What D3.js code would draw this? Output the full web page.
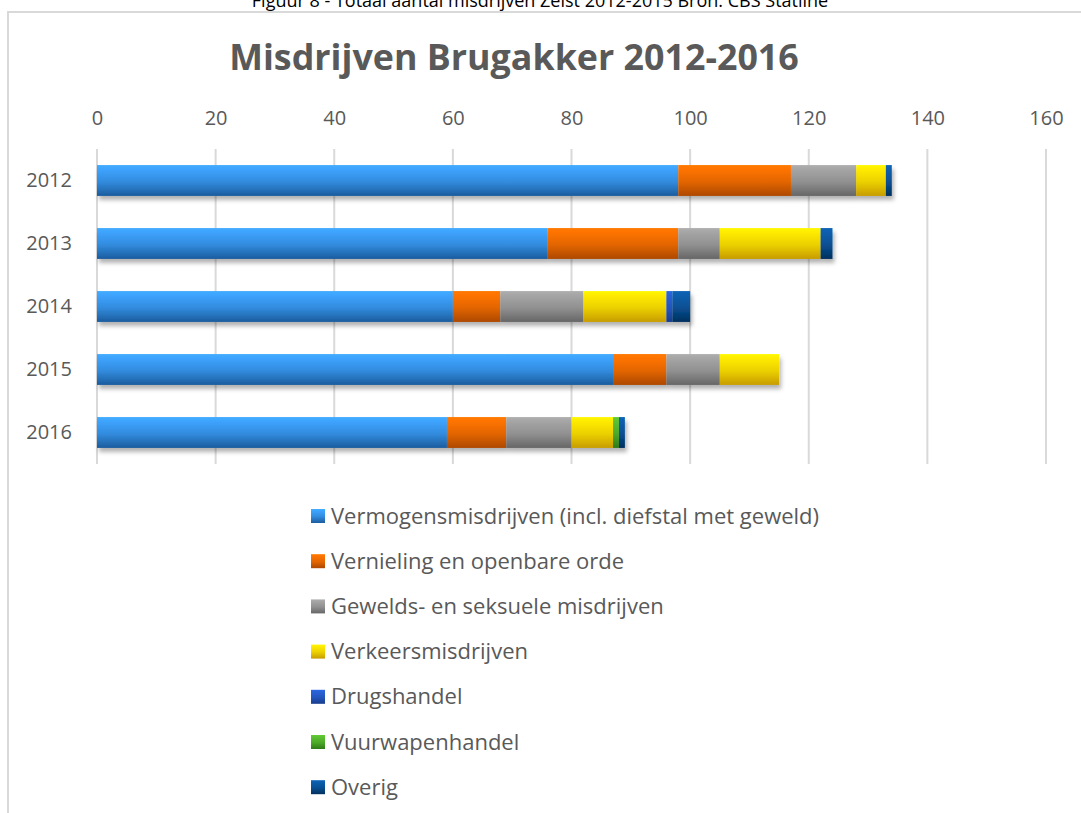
<!DOCTYPE html>
<html>
<head>
<meta charset="utf-8">
<script src="https://cdn.jsdelivr.net/npm/d3@7"></script>
<style>
  body { margin: 0; background: #fff; }
  text { font-family: "Open Sans", sans-serif; }
</style>
</head>
<body>
<div id="chart"></div>
<script>
// data
const years = ["2012", "2013", "2014", "2015", "2016"];
const seriesNames = [
  "Vermogensmisdrijven (incl. diefstal met geweld)",
  "Vernieling en openbare orde",
  "Gewelds- en seksuele misdrijven",
  "Verkeersmisdrijven",
  "Drugshandel",
  "Vuurwapenhandel",
  "Overig"
];
const vermogens = [98, 76, 60, 87, 59];
const vernieling = [19, 22, 8, 9, 10];
const geweld = [11, 7, 14, 9, 11];
const verkeer = [5, 17, 14, 10, 7];
const drugs = [0, 0, 1, 0, 0];
const vuurwapen = [0, 0, 0, 0, 1];
const overig = [1, 2, 3, 0, 1];
const xTicks = [0, 20, 40, 60, 80, 100, 120, 140, 160];

const allSeries = [vermogens, vernieling, geweld, verkeer, drugs, vuurwapen, overig];
// top / bottom of the bevel gradient
const colors = [
  ["#3ea4ff", "#1b5c9e"],
  ["#ff7400", "#ad4800"],
  ["#a6a6a6", "#666666"],
  ["#ffec00", "#c79c00"],
  ["#2a62d8", "#173c8c"],
  ["#5cc232", "#2f7a16"],
  ["#0b5fae", "#03305e"]
];

const svgWidth = 1081, svgHeight = 813;
const svg = d3.select("#chart").append("svg")
  .attr("width", svgWidth)
  .attr("height", svgHeight);

const defs = svg.append("defs");
colors.forEach((c, i) => {
  const g = defs.append("linearGradient")
    .attr("id", "grad" + i)
    .attr("x1", 0).attr("y1", 0).attr("x2", 0).attr("y2", 1);
  g.append("stop").attr("offset", "0%").attr("stop-color", d3.color(c[0]).brighter(0.15));
  g.append("stop").attr("offset", "12%").attr("stop-color", c[0]);
  g.append("stop").attr("offset", "55%").attr("stop-color", d3.interpolateRgb(c[0], c[1])(0.35));
  g.append("stop").attr("offset", "100%").attr("stop-color", c[1]);
});
const shadow = defs.append("filter").attr("id", "shadow")
  .attr("x", "-5%").attr("y", "-20%").attr("width", "110%").attr("height", "160%");
shadow.append("feDropShadow")
  .attr("dx", 2).attr("dy", 4).attr("stdDeviation", 2)
  .attr("flood-color", "#000").attr("flood-opacity", 0.3);

// caption above the chart (cut off at the top, as in the source)
svg.append("text")
  .attr("x", 540).attr("y", 7)
  .attr("text-anchor", "middle")
  .attr("font-size", "18px")
  .attr("fill", "#000")
  .text("Figuur 8 - Totaal aantal misdrijven Zeist 2012-2015 Bron: CBS Statline");

// chart frame
svg.append("rect")
  .attr("x", 8).attr("y", 12)
  .attr("width", 1100).attr("height", 900)
  .attr("fill", "none")
  .attr("stroke", "#d9d9d9")
  .attr("stroke-width", 2);

// title
svg.append("text")
  .attr("x", 514).attr("y", 70)
  .attr("text-anchor", "middle")
  .attr("font-size", "35.8px")
  .attr("font-weight", "bold")
  .attr("fill", "#595959")
  .text("Misdrijven Brugakker 2012-2016");

const x = d3.scaleLinear().domain([0, 160]).range([97, 1046]);
const y = d3.scaleBand().domain(years).range([149, 464]).paddingInner(0.51).paddingOuter(0.255);

// gridlines
svg.append("g").selectAll("line")
  .data(xTicks)
  .enter().append("line")
  .attr("x1", d => x(d)).attr("x2", d => x(d))
  .attr("y1", 149).attr("y2", 464)
  .attr("stroke", "#d9d9d9")
  .attr("stroke-width", 2);

// top axis
const topAxis = d3.axisTop(x).tickValues(xTicks).tickSize(0).tickPadding(0);
const axG = svg.append("g")
  .attr("transform", "translate(0,125)")
  .call(topAxis);
axG.select(".domain").remove();
axG.selectAll("text")
  .attr("font-family", "Open Sans, sans-serif")
  .attr("font-size", "20px")
  .attr("fill", "#595959");

// category axis
const leftAxis = d3.axisLeft(y).tickSize(0).tickPadding(25);
const ayG = svg.append("g")
  .attr("transform", "translate(97,0)")
  .call(leftAxis);
ayG.select(".domain").remove();
ayG.selectAll("text")
  .attr("font-family", "Open Sans, sans-serif")
  .attr("font-size", "20px")
  .attr("fill", "#595959");

// stacked bars
const rows = years.map((yr, i) => {
  const r = { year: yr };
  allSeries.forEach((s, k) => { r["s" + k] = s[i]; });
  return r;
});
const stack = d3.stack().keys(allSeries.map((s, k) => "s" + k));
const stacked = stack(rows);

const barsG = svg.append("g");
years.forEach((yr, i) => {
  const g = barsG.append("g").attr("filter", "url(#shadow)");
  stacked.forEach((layer, k) => {
    const d = layer[i];
    if (d[1] - d[0] <= 0) return;
    g.append("rect")
      .attr("x", x(d[0]))
      .attr("y", y(yr))
      .attr("width", x(d[1]) - x(d[0]))
      .attr("height", y.bandwidth())
      .attr("fill", "url(#grad" + k + ")");
  });
});

// legend
const legend = svg.append("g").selectAll("g")
  .data(seriesNames)
  .enter().append("g")
  .attr("transform", (d, i) => `translate(311, ${516 + i * 45.2})`);
legend.append("rect")
  .attr("x", 0).attr("y", -7)
  .attr("width", 14).attr("height", 14)
  .attr("fill", (d, i) => `url(#grad${i})`);
legend.append("text")
  .attr("x", 20).attr("y", 7.5)
  .attr("font-size", "22px")
  .attr("fill", "#595959")
  .text(d => d);
</script>
</body>
</html>
